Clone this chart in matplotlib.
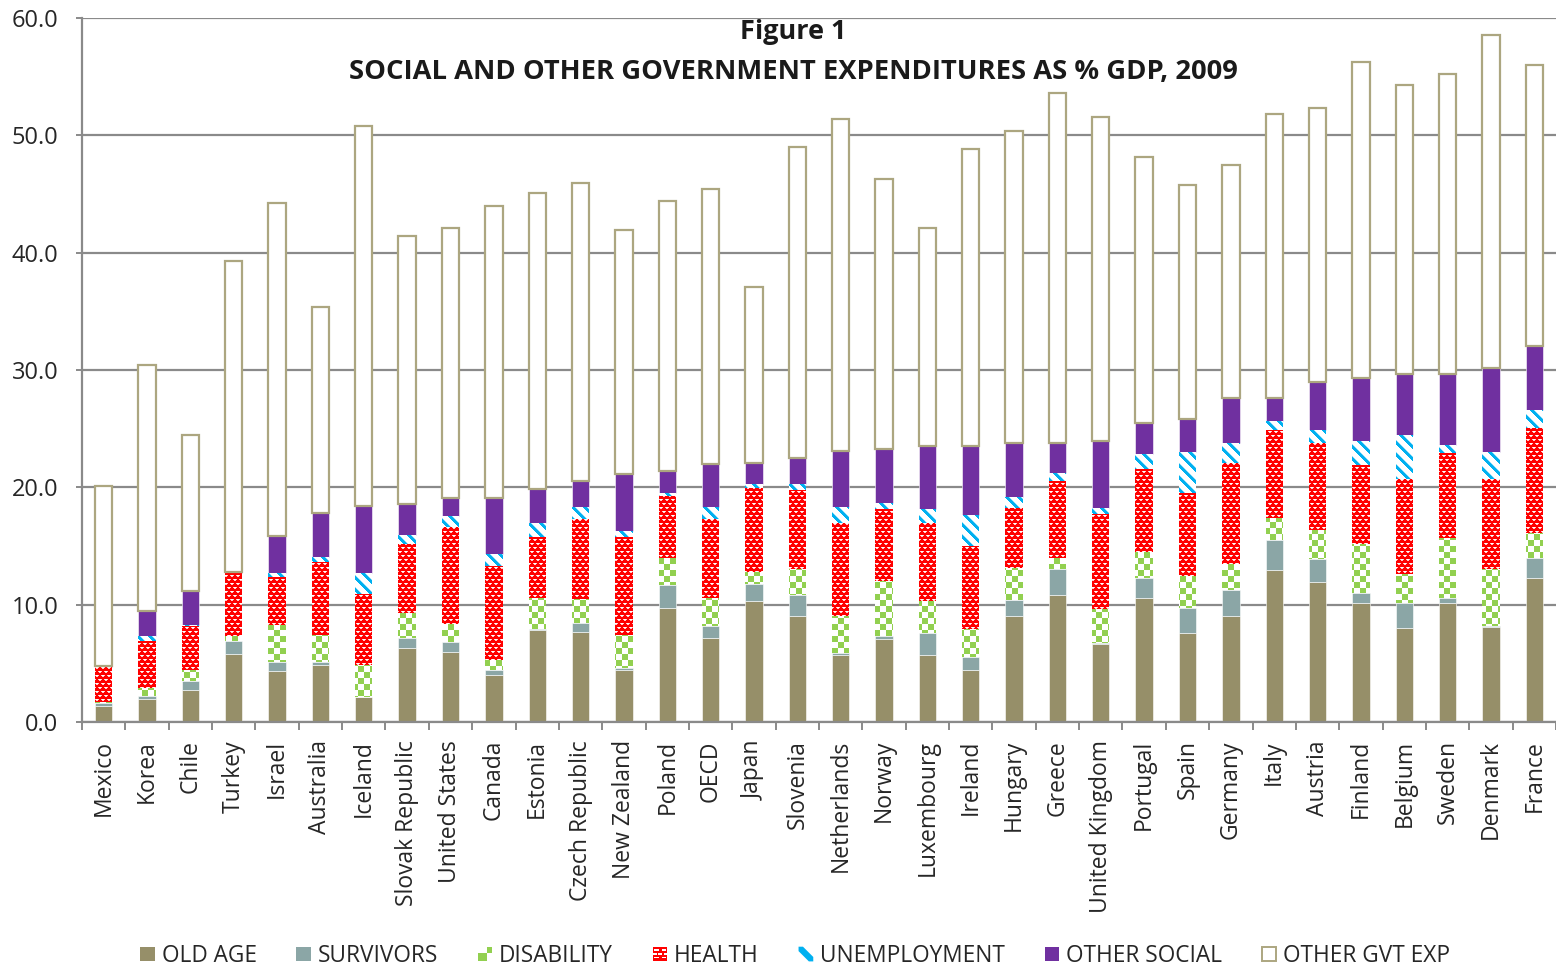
import numpy as np
import matplotlib
matplotlib.use("Agg")
import matplotlib.pyplot as plt
from matplotlib.path import Path
from matplotlib.patches import Rectangle, Polygon, Patch
from matplotlib.legend_handler import HandlerBase
from matplotlib.colors import to_rgb

plt.rcParams["font.family"] = ["Open Sans", "DejaVu Sans"]

# ---------------------------------------------------------------- data
countries = ["Mexico", "Korea", "Chile", "Turkey", "Israel", "Australia", "Iceland",
             "Slovak Republic", "United States", "Canada", "Estonia", "Czech Republic",
             "New Zealand", "Poland", "OECD", "Japan", "Slovenia", "Netherlands", "Norway",
             "Luxembourg", "Ireland", "Hungary", "Greece", "United Kingdom", "Portugal",
             "Spain", "Germany", "Italy", "Austria", "Finland", "Belgium", "Sweden",
             "Denmark", "France"]

old_age = [1.4, 2.0, 2.7, 5.8, 4.35, 4.9, 2.1, 6.3, 6.0, 4.0, 7.85, 7.7, 4.4, 9.7, 7.2,
           10.35, 9.05, 5.7, 7.05, 5.75, 4.45, 9.05, 10.8, 6.65, 10.55, 7.6, 9.05, 12.95,
           11.9, 10.1, 8.05, 10.1, 8.1, 12.25]
survivors = [0.2, 0.2, 0.8, 1.1, 0.8, 0.2, 0.0, 0.9, 0.8, 0.4, 0.05, 0.7, 0.2, 2.0, 1.0,
             1.4, 1.75, 0.2, 0.3, 1.85, 1.05, 1.35, 2.25, 0.1, 1.75, 2.15, 2.2, 2.55, 2.0,
             0.9, 2.1, 0.5, 0.05, 1.7]
disability = [0.1, 0.7, 0.9, 0.4, 3.1, 2.3, 2.75, 2.1, 1.55, 0.9, 2.65, 2.1, 2.85, 2.3,
              2.4, 1.0, 2.2, 3.15, 4.7, 2.75, 2.4, 2.75, 0.95, 2.85, 2.15, 2.7, 2.25, 1.9,
              2.5, 4.15, 2.5, 5.05, 4.9, 2.15]
health = [3.0, 4.0, 3.8, 5.4, 4.1, 6.2, 6.1, 5.9, 8.3, 8.0, 5.25, 6.8, 8.3, 5.25, 6.7, 7.2,
          6.8, 7.9, 6.1, 6.6, 7.1, 5.05, 6.55, 8.1, 7.15, 7.05, 8.6, 7.45, 7.35, 6.75, 8.1,
          7.3, 7.65, 8.95]
unemployment = [0.0, 0.4, 0.1, 0.0, 0.35, 0.5, 1.75, 0.7, 0.9, 1.0, 1.2, 1.0, 0.5, 0.25,
                1.0, 0.35, 0.5, 1.35, 0.5, 1.2, 2.6, 0.95, 0.7, 0.5, 1.2, 3.5, 1.7, 0.8,
                1.1, 2.05, 3.7, 0.7, 2.35, 1.55]
other_social = [0.1, 2.2, 2.9, 0.1, 3.15, 3.7, 5.7, 2.7, 1.55, 4.8, 2.85, 2.2, 4.9, 1.9,
                3.7, 1.75, 2.2, 4.8, 4.6, 5.35, 5.9, 4.65, 2.55, 5.75, 2.65, 2.85, 3.85,
                2.0, 4.15, 5.35, 5.2, 6.05, 7.1, 5.45]
other_gvt = [15.3, 20.9, 13.3, 26.5, 28.35, 17.6, 32.4, 22.8, 23.0, 24.9, 25.2, 25.4, 20.8,
             23.0, 23.4, 15.0, 26.5, 28.3, 23.05, 18.6, 25.3, 26.6, 29.8, 27.65, 22.7,
             19.95, 19.85, 24.15, 23.3, 26.95, 24.6, 25.5, 28.4, 23.95]

series_names = ["OLD AGE", "SURVIVORS", "DISABILITY", "HEALTH", "UNEMPLOYMENT",
                "OTHER SOCIAL", "OTHER GVT EXP"]
y_ticks = [0, 10, 20, 30, 40, 50, 60]

# ---------------------------------------------------------------- styling
OLD = "#968F69"
SURV = "#8BA6A6"
GREEN = "#92D050"
RED = "#FF0000"
BLUE = "#00B0F0"
PURPLE = "#7030A0"
GVT_EDGE = "#ACA680"
GRID = "#8A8A8A"
TEXT = "#262626"

W_PX, H_PX, DPI = 1556, 967, 100
fig = plt.figure(figsize=(W_PX / DPI, H_PX / DPI), dpi=DPI)
ax_l, ax_b = 82 / W_PX, (H_PX - 722) / H_PX
ax_w, ax_h = (1556 - 82) / W_PX, (722 - 18) / H_PX
ax = fig.add_axes([ax_l, ax_b, ax_w, ax_h])

n = len(countries)
x = np.arange(n)
bar_w = 0.4
xlim = (-0.5, n - 0.5)
ylim = (0, 60)


def checker_img(h, w, cell=6):
    yy, xx = np.mgrid[0:h, 0:w]
    img = np.ones((h, w, 4))
    mask = ((xx // cell) + (yy // cell)) % 2 == 0
    img[mask, :3] = to_rgb(GREEN)
    return img


def brick_img(h, w):
    yy, xx = np.mgrid[0:h, 0:w]
    img = np.ones((h, w, 4))
    img[..., :3] = to_rgb(RED)
    row = yy // 4
    xs = (xx + 3 * (row % 2)) % 6
    ys = yy % 4
    img[(ys == 1) & (xs >= 1) & (xs <= 4), :3] = (1.0, 1.0, 1.0)
    img[(ys == 2) & (xs >= 2) & (xs <= 3), :3] = (1.0, 0.78, 0.78)
    img[(ys == 1) & ((xs == 1) | (xs == 4)), :3] = (1.0, 0.8, 0.8)
    return img


def stripe_img(h, w, period=12, thick=4):
    yy, xx = np.mgrid[0:h, 0:w]
    img = np.ones((h, w, 4))
    d = (xx - yy) % period
    img[d < thick, :3] = to_rgb(BLUE)
    img[d == thick, :3] = (0.6, 0.88, 0.98)
    return img


def clip_path_for(bars):
    paths = []
    for p in bars:
        x0, y0, w, h = p.get_x(), p.get_y(), p.get_width(), p.get_height()
        if h <= 0:
            continue
        paths.append(Path([(x0, y0), (x0 + w, y0), (x0 + w, y0 + h), (x0, y0 + h), (x0, y0)],
                          [Path.MOVETO, Path.LINETO, Path.LINETO, Path.LINETO, Path.CLOSEPOLY]))
    return Path.make_compound_path(*paths)


img_w = int(round(ax_w * W_PX))
img_h = int(round(ax_h * H_PX))

bottom = np.zeros(n)
layers = [
    (old_age, OLD, None),
    (survivors, SURV, None),
    (disability, None, checker_img),
    (health, None, brick_img),
    (unemployment, None, stripe_img),
    (other_social, PURPLE, None),
]
for vals, color, pattern in layers:
    vals = np.asarray(vals, dtype=float)
    if pattern is None:
        ax.bar(x, vals, bar_w, bottom=bottom, color=color, edgecolor="white",
               linewidth=0.4, zorder=2)
    else:
        bars = ax.bar(x, vals, bar_w, bottom=bottom, color="white", linewidth=0, zorder=2)
        im = ax.imshow(pattern(img_h, img_w), extent=(*xlim, *ylim), aspect="auto",
                       interpolation="nearest", origin="upper", zorder=2.5)
        im.set_clip_path(clip_path_for(bars), transform=ax.transData)
    bottom = bottom + vals

ax.bar(x, other_gvt, bar_w, bottom=bottom, facecolor="white", edgecolor=GVT_EDGE,
       linewidth=1.6, zorder=3)

# ---------------------------------------------------------------- axes
ax.set_xlim(*xlim)
ax.set_ylim(*ylim)
ax.set_yticks(y_ticks)
ax.set_yticklabels([f"{v:.1f}" for v in y_ticks], fontsize=17, color=TEXT)
ax.yaxis.grid(True, color=GRID, linewidth=1.6, zorder=0)
ax.set_axisbelow(True)

ax.set_xticks(x)
ax.set_xticklabels(countries, rotation=90, fontsize=16.5, color=TEXT, va="top")
ax.set_xticks(np.arange(n + 1) - 0.5, minor=True)
ax.tick_params(axis="x", which="major", length=0, pad=13)
ax.tick_params(axis="x", which="minor", length=6, width=1.4, color=GRID)
ax.tick_params(axis="y", length=4, width=1.4, color=GRID, pad=13)

for side in ("top", "right"):
    ax.spines[side].set_visible(False)
for side in ("left", "bottom"):
    ax.spines[side].set_color(GRID)
    ax.spines[side].set_linewidth(1.6)

# ---------------------------------------------------------------- titles
fig.text(0.51, 1 - 32 / H_PX, "Figure 1", ha="center", va="center",
         fontsize=19.5, fontweight="bold", color="#1a1a1a")
fig.text(0.51, 1 - 72 / H_PX, "SOCIAL AND OTHER GOVERNMENT EXPENDITURES AS % GDP, 2009",
         ha="center", va="center", fontsize=19.7, fontweight="bold", color="#1a1a1a")


# ---------------------------------------------------------------- legend
class PatternHandler(HandlerBase):
    def __init__(self, kind):
        super().__init__()
        self.kind = kind

    def create_artists(self, legend, orig_handle, xdescent, ydescent, width, height,
                       fontsize, trans):
        s = min(width, height)
        x0, y0 = -xdescent, -ydescent + (height - s) / 2
        arts = []
        if self.kind == "checker":
            arts.append(Rectangle((x0, y0), s, s, facecolor="white", edgecolor="none"))
            arts.append(Rectangle((x0, y0), s * 0.6, s * 0.6, facecolor=GREEN, edgecolor="none"))
            arts.append(Rectangle((x0 + s * 0.6, y0 + s * 0.6), s * 0.4, s * 0.4,
                                  facecolor=GREEN, edgecolor="none"))
        elif self.kind == "brick":
            arts.append(Rectangle((x0, y0), s, s, facecolor=RED, edgecolor="none"))
            dw, dh = s * 0.3, s * 0.12
            for r, yy in enumerate((0.2, 0.45, 0.7)):
                offs = (0.1, 0.6) if r % 2 == 0 else (0.0, 0.35, 0.8)
                for ox in offs:
                    arts.append(Rectangle((x0 + ox * s, y0 + yy * s),
                                          min(dw, s - ox * s), dh,
                                          facecolor="white", edgecolor="none"))
        elif self.kind == "stripe":
            arts.append(Rectangle((x0, y0), s, s, facecolor="white", edgecolor="none"))
            t = s * 0.3
            arts.append(Polygon([(x0, y0 + s), (x0 + t, y0 + s), (x0 + s, y0 + t),
                                 (x0 + s, y0), (x0 + s - t, y0), (x0, y0 + s - t)],
                                closed=True, facecolor=BLUE, edgecolor="none"))
        elif self.kind == "outline":
            arts.append(Rectangle((x0 + 0.5, y0 + 0.5), s - 1, s - 1, facecolor="white",
                                  edgecolor=GVT_EDGE, linewidth=1.4))
        else:
            arts.append(Rectangle((x0, y0), s, s, facecolor=orig_handle.get_facecolor(),
                                  edgecolor="none"))
        for a in arts:
            a.set_transform(trans)
        return arts


handles = [Patch(facecolor=OLD), Patch(facecolor=SURV), Patch(facecolor=GREEN),
           Patch(facecolor=RED), Patch(facecolor=BLUE), Patch(facecolor=PURPLE),
           Patch(facecolor="white")]
kinds = ["solid", "solid", "checker", "brick", "stripe", "solid", "outline"]
handler_map = {h: PatternHandler(k) for h, k in zip(handles, kinds)}

fig.legend(handles, series_names, handler_map=handler_map, loc="center",
           bbox_to_anchor=(0.511, 11 / H_PX), ncol=7, frameon=False, fontsize=16.3,
           handlelength=0.65, handleheight=0.65, handletextpad=0.3, columnspacing=1.75,
           labelcolor=TEXT, borderpad=0)

fig.savefig("out.png", dpi=DPI)
